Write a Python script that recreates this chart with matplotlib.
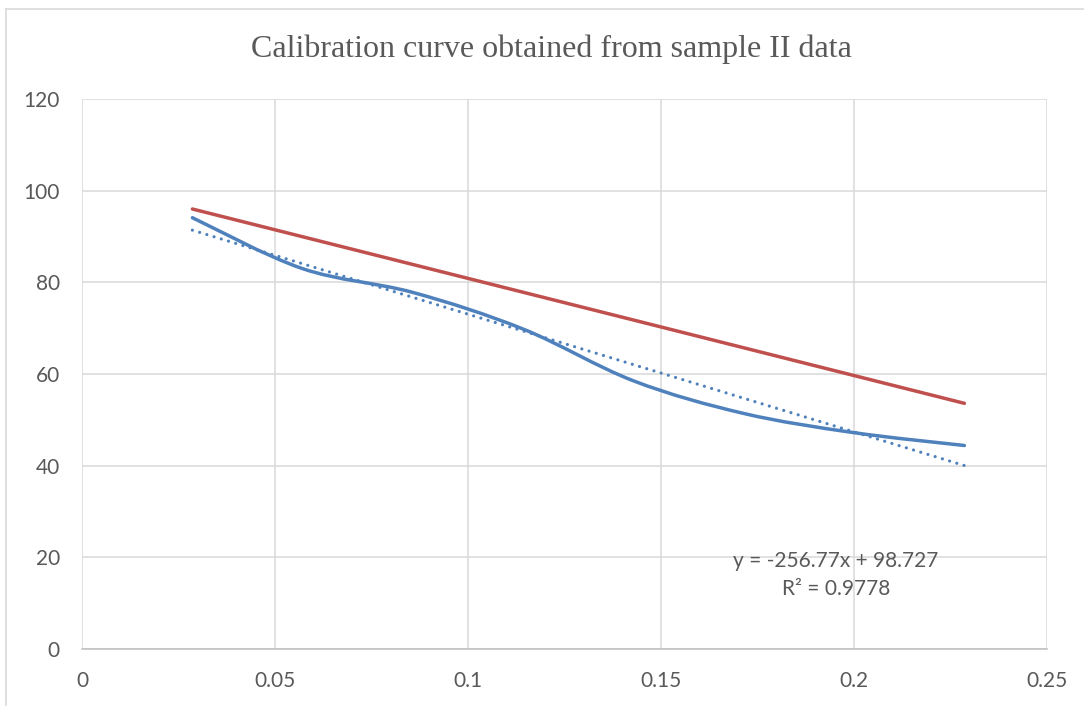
import matplotlib.pyplot as plt
from matplotlib.path import Path
from matplotlib.patches import PathPatch
from matplotlib.lines import Line2D
import numpy as np

# data
conc = [0.0286, 0.0571, 0.0857, 0.1143, 0.1429, 0.1714, 0.2, 0.2286]
measured = [94.1, 83.0, 77.8, 69.8, 58.5, 51.4, 47.2, 44.4]
ref_x = [0.0286, 0.2286]
ref_y = [96.0, 53.6]
slope, intercept = -256.77, 98.727
eq_lines = ["y = -256.77x + 98.727", "R² = 0.9778"]
title = "Calibration curve obtained from sample II data"

blue = '#4F81BD'
red = '#C0504D'
grey_txt = '#595959'
grid_col = '#D9D9D9'

fig = plt.figure(figsize=(10.84, 7.06), dpi=100)
ax = fig.add_axes([82/1084, 57/706, 965/1084, 550/706])

# smoothed line like excel (catmull-rom -> bezier)
def smooth_path(xs, ys):
    pts = np.column_stack([xs, ys])
    verts = [pts[0]]
    codes = [Path.MOVETO]
    n = len(pts)
    for i in range(n - 1):
        p0 = pts[i - 1] if i > 0 else pts[i]
        p1 = pts[i]
        p2 = pts[i + 1]
        p3 = pts[i + 2] if i + 2 < n else pts[i + 1]
        c1 = p1 + (p2 - p0) / 6.0
        c2 = p2 - (p3 - p1) / 6.0
        verts += [c1, c2, p2]
        codes += [Path.CURVE4] * 3
    return Path(verts, codes)

ax.add_patch(PathPatch(smooth_path(conc, measured), fill=False, edgecolor=blue,
                       lw=2.5, capstyle='round', joinstyle='round', zorder=3))
ax.plot(ref_x, ref_y, color=red, lw=2.5, solid_capstyle='round', zorder=3)

# linear trendline
tx = np.array([conc[0], conc[-1]])
ax.plot(tx, slope * tx + intercept, color=blue, lw=2.3,
        linestyle=(0, (0.01, 2.35)), dash_capstyle='round', zorder=2)

ax.text(0.1953, 19.2, eq_lines[0], ha='center', va='center', fontsize=15,
        family='Lato', color=grey_txt)
ax.text(0.1953, 13.1, eq_lines[1], ha='center', va='center', fontsize=15,
        family='Lato', color=grey_txt)

ax.set_xlim(0, 0.25)
ax.set_ylim(0, 120)
ax.set_xticks([0, 0.05, 0.1, 0.15, 0.2, 0.25])
ax.set_xticklabels(['0', '0.05', '0.1', '0.15', '0.2', '0.25'])
ax.set_yticks(range(0, 121, 20))
ax.grid(True, color=grid_col, lw=1.1)
ax.set_axisbelow(True)
for s in ['top', 'right', 'left']:
    ax.spines[s].set_visible(False)
ax.spines['bottom'].set_color('#BFBFBF')
ax.spines['bottom'].set_linewidth(1.1)
ax.tick_params(length=0, labelsize=15, labelcolor=grey_txt, pad=16)
for lab in ax.get_xticklabels() + ax.get_yticklabels():
    lab.set_family('Lato')

fig.text(0.509, 1 - 49/706, title, ha='center', va='center', fontsize=23,
         family='Liberation Serif', color=grey_txt)

# chart border (cropped on right/bottom)
fig.add_artist(Line2D([6/1084, 1], [1 - 9/706, 1 - 9/706], color=grid_col, lw=1.2))
fig.add_artist(Line2D([6/1084, 6/1084], [0, 1 - 9/706], color=grid_col, lw=1.2))

plt.savefig('out.png', dpi=100)
